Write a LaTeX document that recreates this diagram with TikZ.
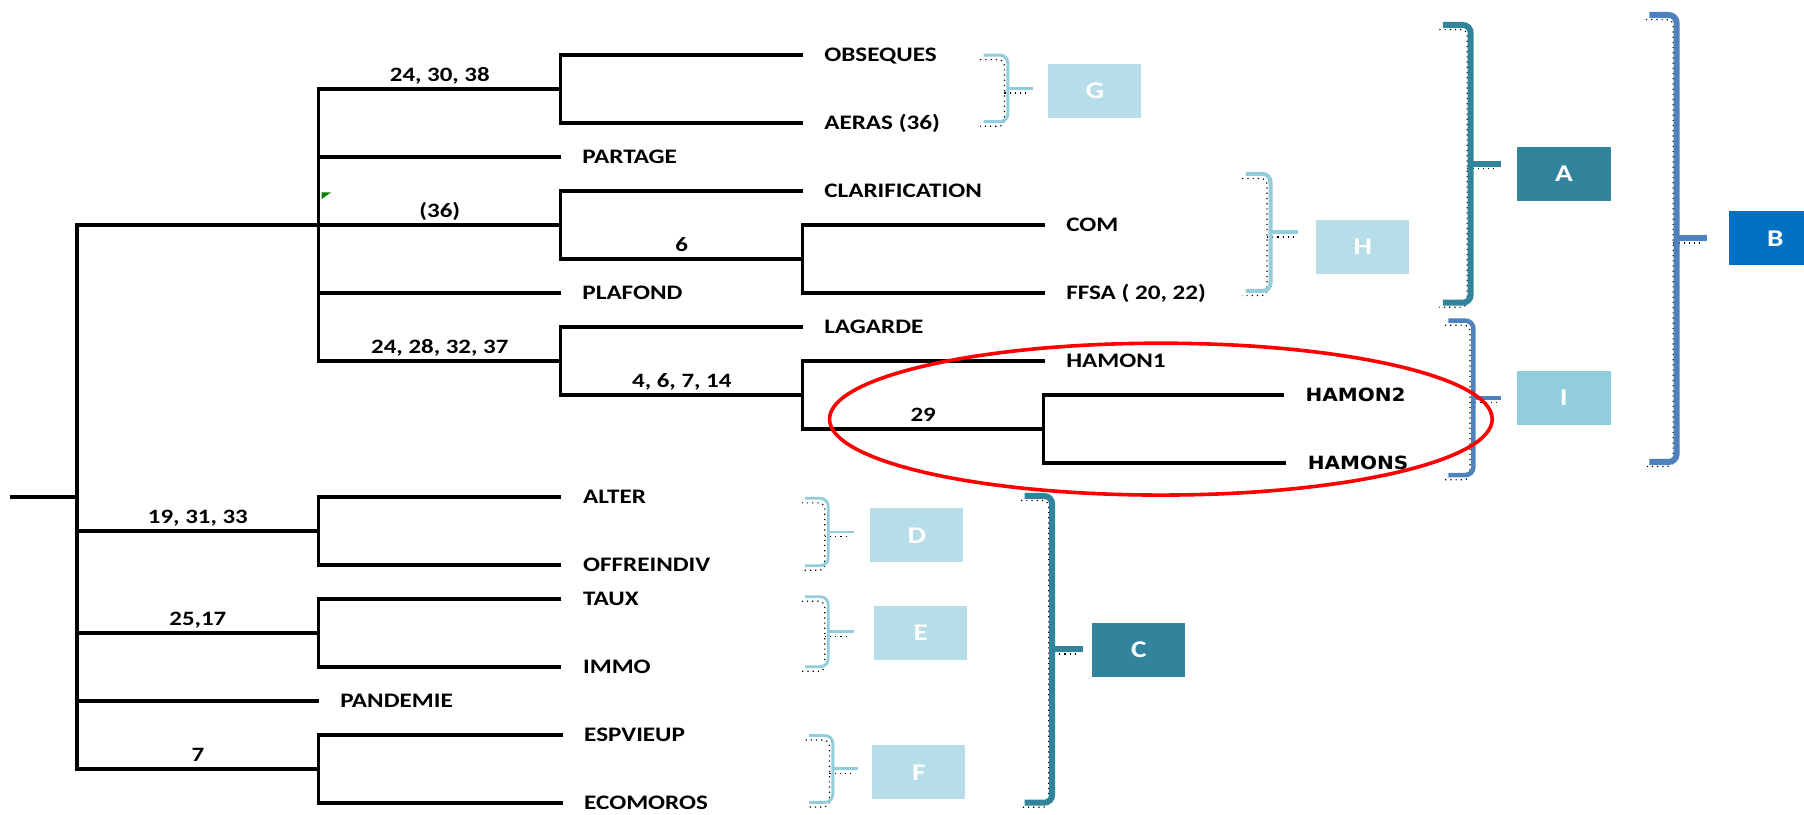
\documentclass[tikz,border=0pt]{standalone}
\usepackage{fontspec}
\setmainfont{Carlito}[FakeStretch=1.22]
\newfontfamily\hamfont{DejaVu Sans}[FakeStretch=1.1]
\usepackage{tikz}

\definecolor{bleuclair}{RGB}{183,221,232}
\definecolor{bleuaccol}{RGB}{146,205,220}
\definecolor{sarcelle}{RGB}{49,132,155}
\definecolor{bleumoyen}{RGB}{79,129,189}
\definecolor{bleufonce}{RGB}{0,112,192}
\definecolor{vertfonce}{RGB}{0,128,0}

% #1 style, #2 x gauche, #3 x du trait vertical, #4 haut, #5 bas, #6 bout de la pointe
\newcommand{\accolade}[6]{%
  \draw[black, line width=0.6pt, dotted, shift={(-3,4)}, rounded corners=3pt] (#2,#4) -- (#3,#4) -- (#3,#5) -- (#2,#5);
  \draw[black, line width=0.6pt, dotted, shift={(-3,4)}] (#3,{(#4+#5)/2}) -- (#6,{(#4+#5)/2});
  \draw[#1, rounded corners=4pt] (#2,#4) -- (#3,#4) -- (#3,#5) -- (#2,#5);
  \draw[#1] (#3,{(#4+#5)/2}) -- (#6,{(#4+#5)/2});
}

\tikzset{
  arbre/.style={line width=1.6pt, black},
  feuille/.style={anchor=west, inner xsep=10.6pt, inner ysep=0pt, text height=6.6pt, text depth=0pt, font=\fontsize{10.3}{12}\selectfont\bfseries},
  hamon/.style={feuille, font=\hamfont\fontsize{9.1}{11}\selectfont\bfseries},
  poids/.style={above=2.8pt, inner sep=0pt, text height=6.5pt, text depth=0pt, font=\fontsize{10.2}{12}\selectfont\bfseries},
  boite/.style={minimum width=46.6pt, minimum height=27pt, inner sep=0pt, text=white, font=\fontsize{12}{14}\selectfont\bfseries}
}

\begin{document}
\begin{tikzpicture}[x=0.575pt,y=-0.575pt]
  \useasboundingbox (0,0) rectangle (1568,708); % 全体の大きさ

  % 結合点
  \coordinate (pied) at (8.5,431.95); % 根の左端
  \coordinate (racine) at (67,431.95); % 根
  \coordinate (n1) at (277,195.55); % 上の大きな群
  \coordinate (n11) at (487.5,77.35);
  \coordinate (n13) at (487.5,195.55);
  \coordinate (n131) at (697.7,225.1);
  \coordinate (n15) at (487.5,313.75);
  \coordinate (n151) at (697.7,343.3);
  \coordinate (n1511) at (907,372.85);
  \coordinate (n2) at (277,461.5);
  \coordinate (n3) at (277,550.15);
  \coordinate (n4) at (277,668.35);

  % 葉
  \node[feuille] (obseques) at (697.7,47.8) {OBSEQUES};
  \node[feuille] (aeras) at (697.7,106.9) {AERAS (36)};
  \node[feuille] (partage) at (487.5,136.45) {PARTAGE};
  \node[feuille] (clarif) at (697.7,166.0) {CLARIFICATION};
  \node[feuille] (com) at (908,195.55) {COM};
  \node[feuille] (ffsa) at (908,254.65) {FFSA ( 20, 22)};
  \node[feuille] (plafond) at (487.5,254.65) {PLAFOND};
  \node[feuille] (lagarde) at (697.7,284.2) {LAGARDE};
  \node[feuille] (hamon1) at (908,313.75) {HAMON1};
  \node[hamon] (hamon2) at (1116,343.3) {HAMON2};
  \node[hamon] (hamons) at (1118,402.4) {HAMONS};
  \node[feuille] (alter) at (488,431.95) {ALTER};
  \node[feuille] (offre) at (488,491.05) {OFFREINDIV};
  \node[feuille] (taux) at (488,520.6) {TAUX};
  \node[feuille] (immo) at (488,579.7) {IMMO};
  \node[feuille] (pandemie) at (277,609.25) {PANDEMIE};
  \node[feuille] (espvieup) at (489,638.8) {ESPVIEUP};
  \node[feuille] (ecomoros) at (489,697.9) {ECOMOROS};

  % 枝
  \draw[arbre] (pied) -- (racine);
  \draw[arbre] (n1) -| (racine) |- node[poids, pos=0.75] {7} (n4);
  \draw[arbre] (racine) |- node[poids, pos=0.75] {19, 31, 33} (n2);
  \draw[arbre] (racine) |- node[poids, pos=0.75] {25,17} (n3);
  \draw[arbre] (racine) |- (pandemie.west);
  \draw[arbre] (n1) |- node[poids, pos=0.75] {24, 30, 38} (n11);
  \draw[arbre] (n1) |- (partage.west);
  \draw[arbre] (n1) -- node[poids] {(36)} (n13);
  \draw[arbre] (n1) |- (plafond.west);
  \draw[arbre] (n1) |- node[poids, pos=0.75] {24, 28, 32, 37} (n15);
  \draw[arbre] (obseques.west) -| (n11) |- (aeras.west);
  \draw[arbre] (n13) |- (clarif.west);
  \draw[arbre] (n13) |- node[poids, pos=0.75] {6} (n131);
  \draw[arbre] (com.west) -| (n131) |- (ffsa.west);
  \draw[arbre] (n15) |- (lagarde.west);
  \draw[arbre] (n15) |- node[poids, pos=0.75] {4, 6, 7, 14} (n151);
  \draw[arbre] (n151) |- (hamon1.west);
  \draw[arbre] (n151) |- node[poids, pos=0.75] {29} (n1511);
  \draw[arbre] (hamon2.west) -| (n1511) |- (hamons.west);
  \draw[arbre] (alter.west) -| (n2) |- (offre.west);
  \draw[arbre] (taux.west) -| (n3) |- (immo.west);
  \draw[arbre] (espvieup.west) -| (n4) |- (ecomoros.west);
  \fill[vertfonce] (279.6,167.2) -- (287.7,167.2) -- (279.6,173) -- cycle; % 小さな緑の三角

  % 括弧
  \accolade{bleuaccol, line width=1.5pt}{855}{876}{47.8}{105.8}{898} % G
  \accolade{bleuaccol, line width=2pt}{1082.6}{1104.3}{151.2}{252.9}{1128} % H
  \accolade{sarcelle, line width=3pt}{1254}{1278.3}{21.7}{263.1}{1304.6} % A
  \accolade{bleumoyen, line width=2.3pt}{1258.9}{1280.6}{278.7}{412.9}{1304.6} % I
  \accolade{bleumoyen, line width=3pt}{1433.6}{1457.3}{13}{401.5}{1483.5} % B
  \accolade{bleuaccol, line width=1.4pt}{699.9}{719.9}{433.1}{491.7}{742.5} % D
  \accolade{bleuaccol, line width=1.4pt}{699.9}{719.9}{518.6}{579.5}{742.5} % E
  \accolade{bleuaccol, line width=1.4pt}{703.2}{723.9}{639.2}{697.4}{745.5} % F
  \accolade{sarcelle, line width=3pt}{890.5}{914.5}{431.1}{697.7}{941.1} % C

  % 群の箱
  \node[boite, fill=bleuclair] (G) at (951.6,78.7) {G};
  \node[boite, fill=bleuclair] (H) at (1184.5,214.6) {H};
  \node[boite, fill=sarcelle] (A) at (1359.3,151.4) {A};
  \node[boite, fill=bleuaccol] (I) at (1359.3,346) {I};
  \node[boite, fill=bleufonce] (B) at (1543,207.2) {B};
  \node[boite, fill=bleuclair] (D) at (796.9,465.3) {D};
  \node[boite, fill=bleuclair] (E) at (800.2,550.2) {E};
  \node[boite, fill=bleuclair] (F) at (798.6,671.3) {F};
  \node[boite, fill=sarcelle] (C) at (989.8,564.7) {C};

  \draw[red, line width=1.8pt] (1009,364.3) ellipse [x radius=288, y radius=66]; % 赤い楕円
\end{tikzpicture}
\end{document}
